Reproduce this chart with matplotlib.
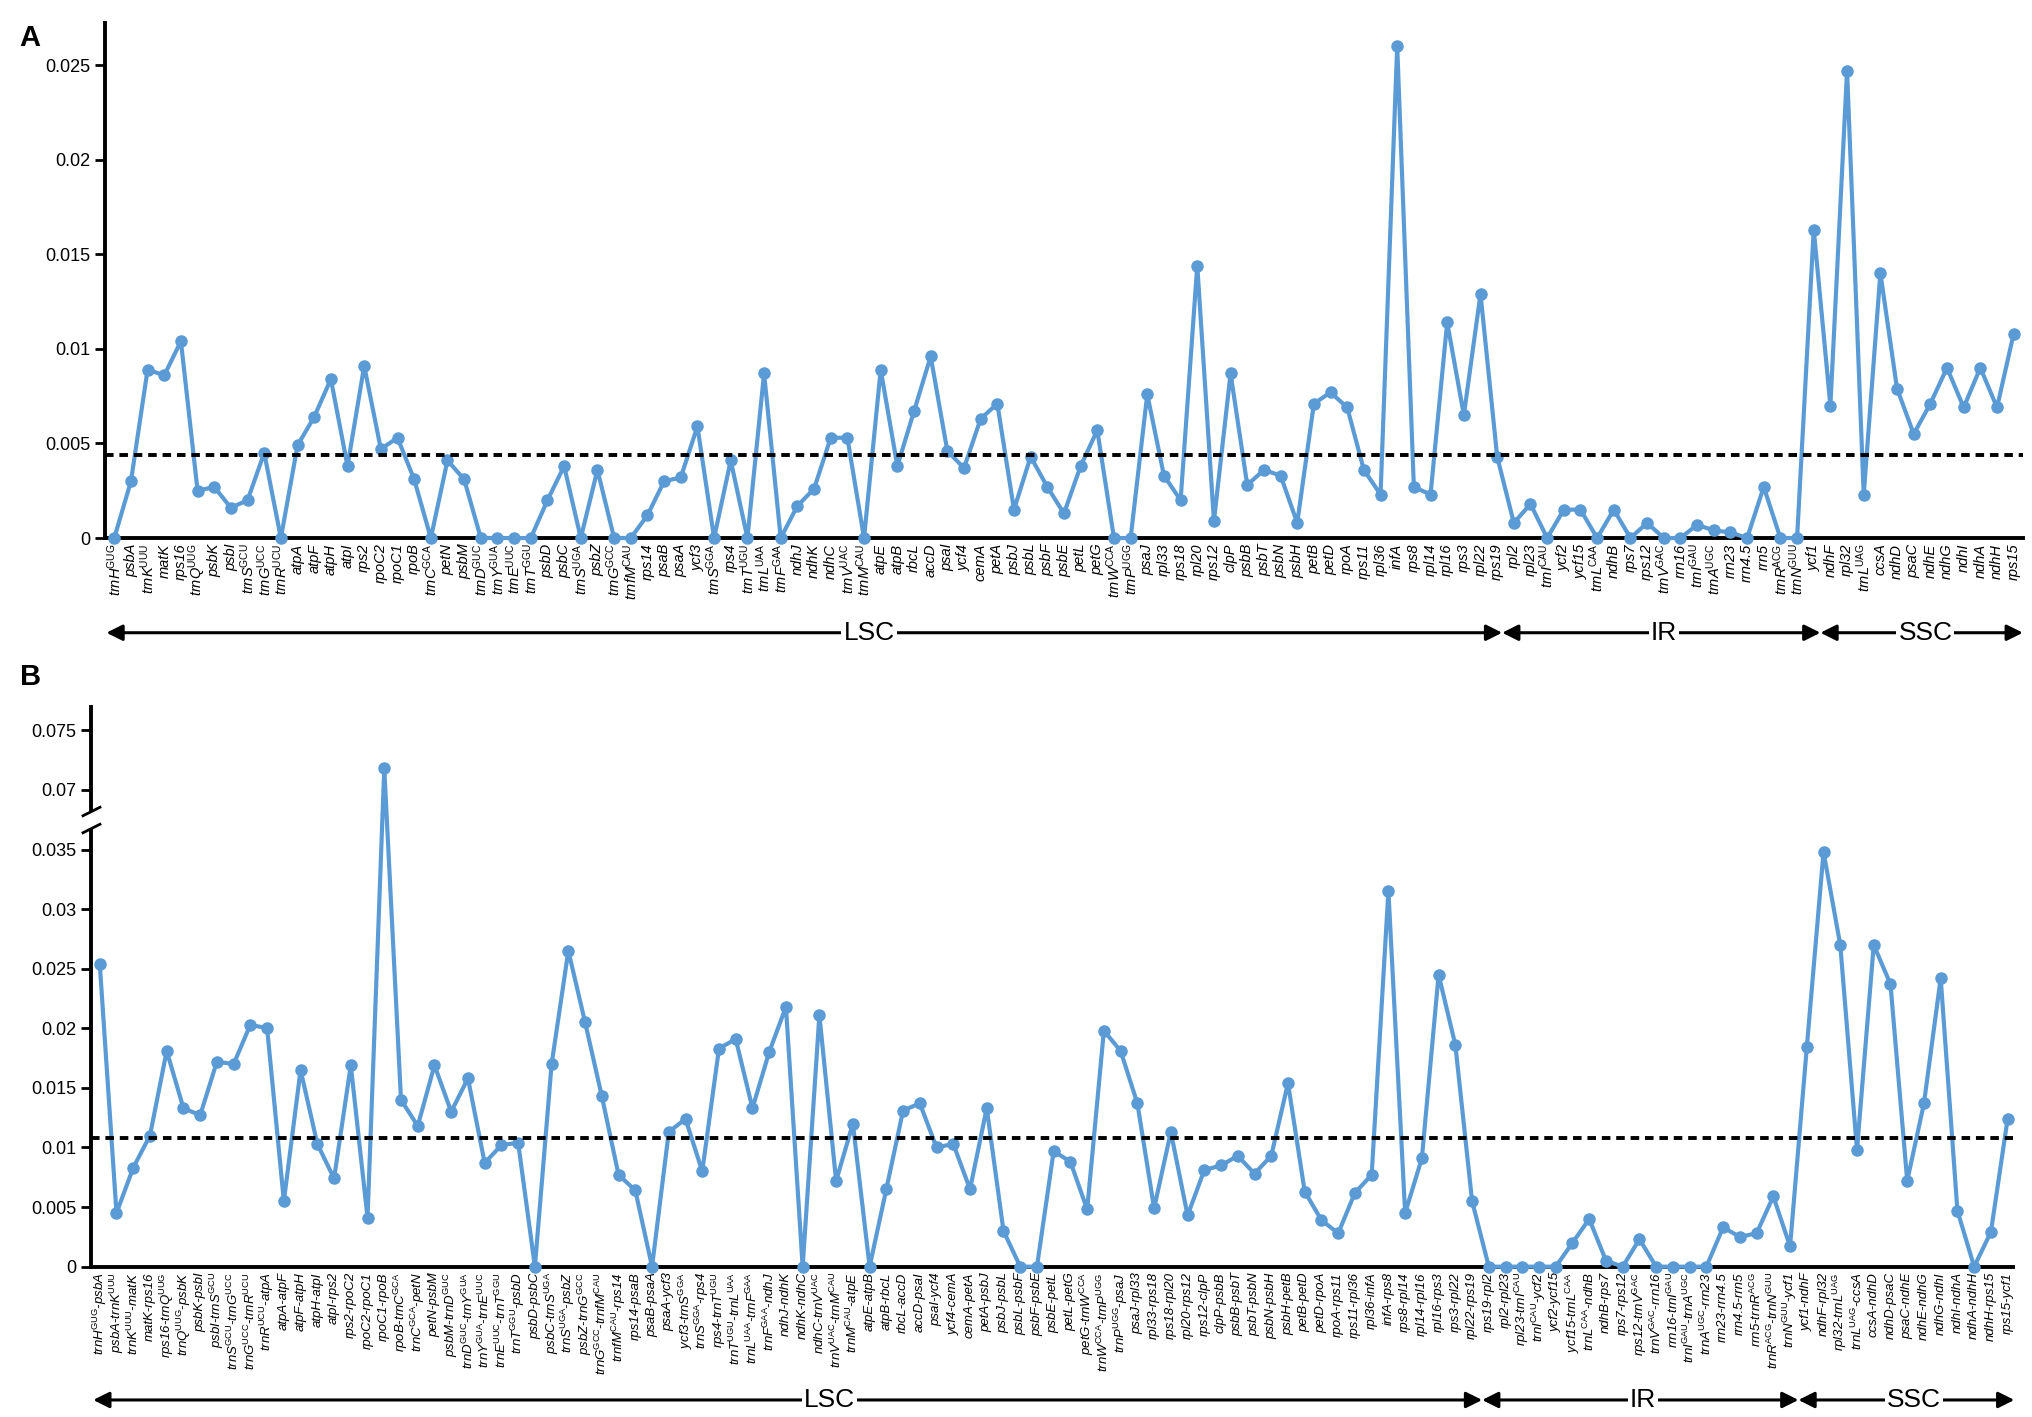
import numpy as np
import matplotlib
matplotlib.use("Agg")
import matplotlib.pyplot as plt

plt.rcParams['font.family'] = ['Liberation Sans', 'DejaVu Sans']
plt.rcParams['mathtext.fontset'] = 'custom'
plt.rcParams['mathtext.rm'] = 'Liberation Sans'
plt.rcParams['mathtext.it'] = 'Liberation Sans:italic'
plt.rcParams['mathtext.bf'] = 'Liberation Sans:bold'

# Panel A: genes
genes_a = [
    "trnH^GUG", "psbA", "trnK^UUU", "matK", "rps16", "trnQ^UUG", "psbK", "psbI",
    "trnS^GCU", "trnG^UCC", "trnR^UCU", "atpA", "atpF", "atpH", "atpI", "rps2",
    "rpoC2", "rpoC1", "rpoB", "trnC^GCA", "petN", "psbM", "trnD^GUC", "trnY^GUA",
    "trnE^UUC", "trnT^GGU", "psbD", "psbC", "trnS^UGA", "psbZ", "trnG^GCC",
    "trnfM^CAU", "rps14", "psaB", "psaA", "ycf3", "trnS^GGA", "rps4", "trnT^UGU",
    "trnL^UAA", "trnF^GAA", "ndhJ", "ndhK", "ndhC", "trnV^UAC", "trnM^CAU", "atpE",
    "atpB", "rbcL", "accD", "psaI", "ycf4", "cemA", "petA", "psbJ", "psbL", "psbF",
    "psbE", "petL", "petG", "trnW^CCA", "trnP^UGG", "psaJ", "rpl33", "rps18",
    "rpl20", "rps12", "clpP", "psbB", "psbT", "psbN", "psbH", "petB", "petD", "rpoA",
    "rps11", "rpl36", "infA", "rps8", "rpl14", "rpl16", "rps3", "rpl22", "rps19",
    "rpl2", "rpl23", "trnI^CAU", "ycf2", "ycf15", "trnL^CAA", "ndhB", "rps7",
    "rps12", "trnV^GAC", "rrn16", "trnI^GAU", "trnA^UGC", "rrn23", "rrn4.5", "rrn5",
    "trnR^ACG", "trnN^GUU", "ycf1", "ndhF", "rpl32", "trnL^UAG", "ccsA", "ndhD",
    "psaC", "ndhE", "ndhG", "ndhI", "ndhA", "ndhH", "rps15",
]
pi_a = [
    0.0, 0.0030, 0.0089, 0.0086, 0.0104, 0.0025, 0.0027, 0.0016,
    0.0020, 0.0045, 0.0, 0.0049, 0.0064, 0.0084, 0.0038, 0.0091,
    0.0047, 0.0053, 0.0031, 0.0, 0.0041, 0.0031, 0.0, 0.0,
    0.0, 0.0, 0.0020, 0.0038, 0.0, 0.0036, 0.0,
    0.0, 0.0012, 0.0030, 0.0032, 0.0059, 0.0, 0.0041, 0.0,
    0.0087, 0.0, 0.0017, 0.0026, 0.0053, 0.0053, 0.0, 0.0089,
    0.0038, 0.0067, 0.0096, 0.0046, 0.0037, 0.0063, 0.0071, 0.0015, 0.0043, 0.0027,
    0.0013, 0.0038, 0.0057, 0.0, 0.0, 0.0076, 0.0033, 0.0020,
    0.0144, 0.0009, 0.0087, 0.0028, 0.0036, 0.0033, 0.0008, 0.0071, 0.0077, 0.0069,
    0.0036, 0.0023, 0.0260, 0.0027, 0.0023, 0.0114, 0.0065, 0.0129, 0.0043,
    0.0008, 0.0018, 0.0, 0.0015, 0.0015, 0.0, 0.0015, 0.0,
    0.0008, 0.0, 0.0, 0.0007, 0.0004, 0.0003, 0.0, 0.0027,
    0.0, 0.0, 0.0163, 0.0070, 0.0247, 0.0023, 0.0140, 0.0079,
    0.0055, 0.0071, 0.0090, 0.0069, 0.0090, 0.0069, 0.0108,
]
mean_a = 0.0044

# Panel B: intergenic regions
spacers_b = [
    "trnH^GUG-psbA", "psbA-trnK^UUU", "trnK^UUU-matK", "matK-rps16",
    "rps16-trnQ^UUG", "trnQ^UUG-psbK", "psbK-psbI", "psbI-trnS^GCU",
    "trnS^GCU-trnG^UCC", "trnG^UCC-trnR^UCU", "trnR^UCU-atpA", "atpA-atpF",
    "atpF-atpH", "atpH-atpI", "atpI-rps2", "rps2-rpoC2", "rpoC2-rpoC1",
    "rpoC1-rpoB", "rpoB-trnC^GCA", "trnC^GCA-petN", "petN-psbM", "psbM-trnD^GUC",
    "trnD^GUC-trnY^GUA", "trnY^GUA-trnE^UUC", "trnE^UUC-trnT^GGU",
    "trnT^GGU-psbD", "psbD-psbC", "psbC-trnS^UGA", "trnS^UGA-psbZ",
    "psbZ-trnG^GCC", "trnG^GCC-trnfM^CAU", "trnfM^CAU-rps14", "rps14-psaB",
    "psaB-psaA", "psaA-ycf3", "ycf3-trnS^GGA", "trnS^GGA-rps4", "rps4-trnT^UGU",
    "trnT^UGU-trnL^UAA", "trnL^UAA-trnF^GAA", "trnF^GAA-ndhJ", "ndhJ-ndhK",
    "ndhK-ndhC", "ndhC-trnV^UAC", "trnV^UAC-trnM^CAU", "trnM^CAU-atpE",
    "atpE-atpB", "atpB-rbcL", "rbcL-accD", "accD-psaI", "psaI-ycf4", "ycf4-cemA",
    "cemA-petA", "petA-psbJ", "psbJ-psbL", "psbL-psbF", "psbF-psbE", "psbE-petL",
    "petL-petG", "petG-trnW^CCA", "trnW^CCA-trnP^UGG", "trnP^UGG-psaJ",
    "psaJ-rpl33", "rpl33-rps18", "rps18-rpl20", "rpl20-rps12", "rps12-clpP",
    "clpP-psbB", "psbB-psbT", "psbT-psbN", "psbN-psbH", "psbH-petB", "petB-petD",
    "petD-rpoA", "rpoA-rps11", "rps11-rpl36", "rpl36-infA", "infA-rps8",
    "rps8-rpl14", "rpl14-rpl16", "rpl16-rps3", "rps3-rpl22", "rpl22-rps19",
    "rps19-rpl2", "rpl2-rpl23", "rpl23-trnI^CAU", "trnI^CAU-ycf2", "ycf2-ycf15",
    "ycf15-trnL^CAA", "trnL^CAA-ndhB", "ndhB-rps7", "rps7-rps12",
    "rps12-trnV^GAC", "trnV^GAC-rrn16", "rrn16-trnI^GAU", "trnI^GAU-trnA^UGC",
    "trnA^UGC-rrn23", "rrn23-rrn4.5", "rrn4.5-rrn5", "rrn5-trnR^ACG",
    "trnR^ACG-trnN^GUU", "trnN^GUU-ycf1", "ycf1-ndhF", "ndhF-rpl32",
    "rpl32-trnL^UAG", "trnL^UAG-ccsA", "ccsA-ndhD", "ndhD-psaC", "psaC-ndhE",
    "ndhE-ndhG", "ndhG-ndhI", "ndhI-ndhA", "ndhA-ndhH", "ndhH-rps15", "rps15-ycf1",
]
pi_b = [
    0.0254, 0.0045, 0.0083, 0.0110, 0.0181, 0.0133, 0.0127, 0.0172,
    0.0170, 0.0203, 0.0200, 0.0055, 0.0165, 0.0103, 0.0074, 0.0169, 0.0041,
    0.0718, 0.0140, 0.0118, 0.0169, 0.0130, 0.0158, 0.0087, 0.0102,
    0.0104, 0.0, 0.0170, 0.0265, 0.0205, 0.0143, 0.0077, 0.0064,
    0.0, 0.0113, 0.0124, 0.0080, 0.0183, 0.0191, 0.0133, 0.0180, 0.0218,
    0.0, 0.0211, 0.0072, 0.0120, 0.0, 0.0065, 0.0131, 0.0137, 0.0100, 0.0103,
    0.0065, 0.0133, 0.0030, 0.0, 0.0, 0.0097, 0.0088, 0.0048, 0.0198, 0.0181,
    0.0137, 0.0049, 0.0113, 0.0043, 0.0081, 0.0085, 0.0093, 0.0078, 0.0093,
    0.0154, 0.0063, 0.0039, 0.0028, 0.0062, 0.0077, 0.0315, 0.0045, 0.0091,
    0.0245, 0.0186, 0.0055, 0.0, 0.0, 0.0, 0.0, 0.0, 0.0020, 0.0040, 0.0005,
    0.0, 0.0023, 0.0, 0.0, 0.0, 0.0, 0.0033, 0.0025, 0.0028, 0.0059, 0.0017,
    0.0184, 0.0348, 0.0270, 0.0098, 0.0270, 0.0237, 0.0072, 0.0137, 0.0242,
    0.0047, 0.0, 0.0029, 0.0124,
]
mean_b = 0.0108

regions = ["LSC", "IR", "SSC"]

blue = "#5b9bd5"


def fmt(name):
    out = []
    for p in name.split("-"):
        if "^" in p:
            g, s = p.split("^")
            out.append(g + r"$^{\mathrm{" + s + "}}$")
        else:
            out.append(p)
    return "-".join(out)


def style_axes(ax):
    for s in ["top", "right"]:
        ax.spines[s].set_visible(False)
    for s in ["left", "bottom"]:
        ax.spines[s].set_linewidth(2.8)
    ax.tick_params(axis="y", length=7, width=2, labelsize=13, direction="out")
    ax.tick_params(axis="x", length=0, pad=4)


def draw_panel(ax, labels, values, mean, fontsize):
    x = np.arange(1, len(values) + 1)
    ax.plot(x, values, color=blue, lw=3, marker="o", ms=8, zorder=3, clip_on=False)
    ax.axhline(mean, color="black", ls=(0, (2.2, 1.5)), lw=2.8, zorder=4)
    ax.set_xticks(x)
    ax.set_xticklabels([fmt(l) for l in labels], rotation=90, fontsize=fontsize,
                       style="italic", va="top", ha="center")
    style_axes(ax)


def region_arrows(ax, bounds, text_x, y):
    trans = ax.get_xaxis_transform()
    for i, name in enumerate(regions):
        ax.annotate("", xy=(bounds[i + 1], y), xytext=(bounds[i], y),
                    xycoords=trans, textcoords=trans, annotation_clip=False,
                    arrowprops=dict(arrowstyle="<|-|>", color="black", lw=2.2,
                                    mutation_scale=24, shrinkA=0, shrinkB=0))
        ax.text(text_x[i], y, name, transform=trans, ha="center", va="center",
                fontsize=19, zorder=6, clip_on=False,
                bbox=dict(facecolor="white", edgecolor="none", pad=1.5))


fig = plt.figure(figsize=(20.33, 14.17), dpi=100)

# ---- Panel A
ax1 = fig.add_axes([0.0517, 0.6203, 0.9433, 0.3632])
draw_panel(ax1, genes_a, pi_a, mean_a, 10.5)
ax1.set_xlim(0.45, 115.55)
ax1.set_ylim(0, 0.0272)
ax1.set_yticks([0, 0.005, 0.01, 0.015, 0.02, 0.025])
ax1.set_yticklabels(["0", "0.005", "0.01", "0.015", "0.02", "0.025"])
region_arrows(ax1, [0.53, 84.3, 103.4, 115.55], [46.3, 94.0, 109.7], -0.184)

# ---- Panel B (broken y axis)
lo, hi, shift = 0.0368, 0.0682, 0.03


def fwd(y):
    y = np.asarray(y, dtype=float)
    mid = lo + (y - lo) * (hi - shift - lo) / (hi - lo)
    return np.where(y <= lo, y, np.where(y >= hi, y - shift, mid))


def inv(t):
    t = np.asarray(t, dtype=float)
    hi_t = hi - shift
    mid = lo + (t - lo) * (hi - lo) / (hi_t - lo)
    return np.where(t <= lo, t, np.where(t >= hi_t, t + shift, mid))


ax2 = fig.add_axes([0.0446, 0.1061, 0.9458, 0.3953])
ax2.set_yscale("function", functions=(fwd, inv))
draw_panel(ax2, spacers_b, pi_b, mean_b, 9.5)
ax2.set_xlim(0.457, 115.35)
ax2.set_ylim(0, 0.077)
yt = [0, 0.005, 0.01, 0.015, 0.02, 0.025, 0.03, 0.035, 0.07, 0.075]
ax2.set_yticks(yt)
ax2.set_yticklabels(["%g" % v for v in yt])
ax2.minorticks_off()

# break marks on the y axis
ytrans = ax2.get_yaxis_transform()
ax2.plot([0, 0], [lo + 0.0001, hi - 0.0001], transform=ytrans, color="white",
         lw=6, clip_on=False, zorder=7, solid_capstyle="butt")
ax2.plot([0, 0], [lo, hi], transform=ytrans, ls="none", marker=[(-1, -0.5), (1, 0.5)],
         ms=14, mec="black", mew=2, clip_on=False, zorder=8)

region_arrows(ax2, [0.61, 83.6, 102.5, 115.4], [44.6, 93.2, 109.4], -0.238)

fig.text(0.0096, 0.983, "A", fontsize=21, fontweight="bold", va="top", ha="left")
fig.text(0.0096, 0.532, "B", fontsize=21, fontweight="bold", va="top", ha="left")

fig.savefig("out.png", dpi=100)
